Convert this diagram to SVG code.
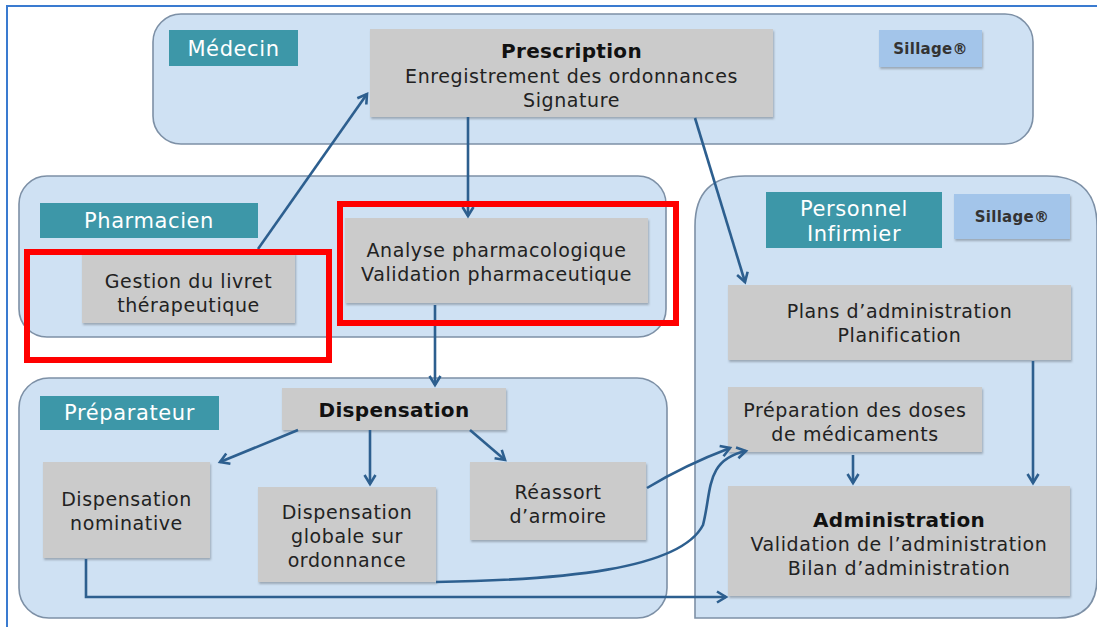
<svg xmlns="http://www.w3.org/2000/svg" width="1097" height="627" viewBox="0 0 1097 627">
<defs>
<style>
.lane{fill:#cfe1f3;stroke:#7d90a6;stroke-width:1.6}
.lbl{fill:#3d97a8}
.lt{fill:#ffffff;font-family:"DejaVu Sans",sans-serif;font-size:21px;letter-spacing:0.6px;text-anchor:middle}
.box{fill:#cbcbcb;filter:url(#sh)}
.sil{fill:#a3c5ea;filter:url(#sh)}
.t{fill:#222222;font-family:"DejaVu Sans",sans-serif;font-size:19px;letter-spacing:0.6px;text-anchor:middle}
.b{font-weight:bold;font-size:20px;letter-spacing:0.3px;fill:#111111}
.st{fill:#333333;font-family:"DejaVu Sans",sans-serif;font-size:15px;letter-spacing:0.3px;font-weight:bold;text-anchor:middle}
.c{fill:none;stroke:#2d5f8f;stroke-width:2.6;marker-end:url(#ah)}
.red{fill:none;stroke:#ff0000;stroke-width:6}
</style>
<filter id="sh" x="-5%" y="-5%" width="110%" height="115%">
<feDropShadow dx="1" dy="2" stdDeviation="1.2" flood-color="#000" flood-opacity="0.25"/>
</filter>
<marker id="ah" markerWidth="14" markerHeight="14" refX="11" refY="7" orient="auto" markerUnits="userSpaceOnUse">
<path d="M2,1.5 L11,7 L2,12.5" fill="none" stroke="#2d5f8f" stroke-width="2.6"/>
</marker>
</defs>
<rect width="1097" height="627" fill="#ffffff"/>
<path d="M7,627 V6 H1097" fill="none" stroke="#3a7bd0" stroke-width="2"/>

<g id="lane-medecin">
<rect class="lane" x="153" y="14" width="880" height="130" rx="28"/>
<rect class="lbl" x="169" y="30" width="129" height="36"/>
<text class="lt" x="233.5" y="56">Médecin</text>
</g>
<g id="lane-pharmacien">
<rect class="lane" x="19" y="176" width="647" height="161" rx="28"/>
<rect class="lbl" x="40" y="203" width="218" height="35"/>
<text class="lt" x="149" y="228">Pharmacien</text>
</g>
<g id="lane-preparateur">
<rect class="lane" x="19" y="378" width="648" height="240" rx="30"/>
<rect class="lbl" x="40" y="396" width="179" height="34"/>
<text class="lt" x="129.5" y="420">Préparateur</text>
</g>
<g id="lane-infirmier">
<path class="lane" d="M695,618 V226 Q695,176 745,176 H1047 Q1097,176 1097,226 V578 Q1097,618 1057,618 Z"/>
<rect class="lbl" x="766" y="192" width="176" height="56"/>
<text class="lt" x="854" y="216">Personnel</text>
<text class="lt" x="854" y="241">Infirmier</text>
</g>

<g id="sillage-1">
<rect class="sil" x="879" y="30" width="103" height="37"/>
<text class="st" x="930.5" y="54">Sillage®</text>
</g>
<g id="sillage-2">
<rect class="sil" x="954" y="194" width="116" height="45"/>
<text class="st" x="1012" y="222">Sillage®</text>
</g>

<g id="prescription">
<rect class="box" x="370" y="29" width="403" height="88"/>
<text class="t b" x="571.5" y="58">Prescription</text>
<text class="t" x="571.5" y="83">Enregistrement des ordonnances</text>
<text class="t" x="571.5" y="107">Signature</text>
</g>
<g id="gestion">
<rect class="box" x="82" y="252" width="213" height="71"/>
<text class="t" x="188.5" y="288">Gestion du livret</text>
<text class="t" x="188.5" y="312">thérapeutique</text>
</g>
<g id="analyse">
<rect class="box" x="345" y="218" width="303" height="85"/>
<text class="t" x="496.5" y="257">Analyse pharmacologique</text>
<text class="t" x="496.5" y="281">Validation pharmaceutique</text>
</g>
<g id="dispensation">
<rect class="box" x="282" y="388" width="224" height="42"/>
<text class="t b" x="394" y="417">Dispensation</text>
</g>
<g id="disp-nominative">
<rect class="box" x="43" y="462" width="167" height="96"/>
<text class="t" x="126.5" y="506">Dispensation</text>
<text class="t" x="126.5" y="530">nominative</text>
</g>
<g id="disp-globale">
<rect class="box" x="258" y="487" width="178" height="95"/>
<text class="t" x="347" y="519">Dispensation</text>
<text class="t" x="347" y="543">globale sur</text>
<text class="t" x="347" y="567">ordonnance</text>
</g>
<g id="reassort">
<rect class="box" x="470" y="462" width="176" height="78"/>
<text class="t" x="558" y="499">Réassort</text>
<text class="t" x="558" y="523">d’armoire</text>
</g>
<g id="plans">
<rect class="box" x="728" y="285" width="343" height="75"/>
<text class="t" x="899.5" y="318">Plans d’administration</text>
<text class="t" x="899.5" y="342">Planification</text>
</g>
<g id="preparation-doses">
<rect class="box" x="728" y="387" width="254" height="65"/>
<text class="t" x="855" y="417">Préparation des doses</text>
<text class="t" x="855" y="441">de médicaments</text>
</g>
<g id="administration">
<rect class="box" x="728" y="486" width="342" height="110"/>
<text class="t b" x="899" y="527">Administration</text>
<text class="t" x="899" y="551">Validation de l’administration</text>
<text class="t" x="899" y="575">Bilan d’administration</text>
</g>

<g id="connectors">
<path class="c" d="M258,249 L367,94"/>
<path class="c" d="M468,117 V216"/>
<path class="c" d="M695,118 L745,282"/>
<path class="c" d="M435,305 V385"/>
<path class="c" d="M298,430 L220,462"/>
<path class="c" d="M370,430 V484"/>
<path class="c" d="M470,430 L505,460"/>
<path class="c" d="M647,488 Q685,465 730,448"/>
<path class="c" d="M436,582 C560,580 680,570 703,525 C712,490 705,460 746,451"/>
<path class="c" d="M86,559 V597 H726"/>
<path class="c" d="M853,455 V483"/>
<path class="c" d="M1033,361 V483"/>
</g>

<g id="highlights">
<rect class="red" x="27" y="252" width="302" height="108"/>
<rect class="red" x="340" y="204" width="336" height="119"/>
</g>
</svg>
